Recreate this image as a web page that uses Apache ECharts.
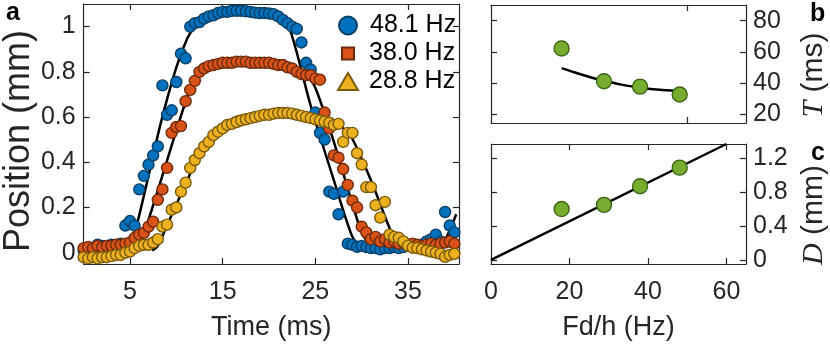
<!DOCTYPE html>
<html>
<head>
<meta charset="utf-8">
<script src="https://cdn.jsdelivr.net/npm/echarts@6/dist/echarts.min.js"></script>
<style>
  html, body { margin: 0; padding: 0; background: #fff; }
  #main { width: 830px; height: 347px; }
</style>
</head>
<body>
<div id="main"></div>
<script>
// frame times (ms)
const time = [0, 0.5, 1, 1.5, 2, 2.5, 3, 3.5, 4, 4.5, 5, 5.5, 6, 6.5, 7, 7.5, 8, 8.5, 9, 9.5,
  10, 10.5, 11, 11.5, 12, 12.5, 13, 13.5, 14, 14.5, 15, 15.5, 16, 16.5, 17, 17.5, 18, 18.5, 19, 19.5,
  20, 20.5, 21, 21.5, 22, 22.5, 23, 23.5, 24, 24.5, 25, 25.5, 26, 26.5, 27, 27.5, 28, 28.5, 29, 29.5,
  30, 30.5, 31, 31.5, 32, 32.5, 33, 33.5, 34, 34.5, 35, 35.5, 36, 36.5, 37, 37.5, 38, 38.5, 39, 39.5, 40];

// position (mm), 48.1 Hz
const pos48 = [0.01, 0.02, 0.02, 0.035, 0.03, 0.03, 0.035, 0.03, 0.04, 0.12, 0.14, 0.12, 0.28, 0.34, 0.39, 0.43, 0.47, 0.74, 0.61, 0.63,
  0.755, 0.88, 0.86, 1.0, 1.015, 1.02, 1.035, 1.045, 1.05, 1.06, 1.065, 1.065, 1.07, 1.07, 1.07, 1.068, 1.065, 1.062, 1.06, 1.06,
  1.058, 1.055, 1.045, 1.03, 1.015, 1.0, 0.99, 0.93, 0.84, 0.81, 0.62, 0.53, 0.5, 0.27, 0.26, 0.17, 0.27, 0.04, 0.035, 0.026,
  0.03, 0.025, 0.02, 0.02, 0.015, 0.02, 0.02, 0.025, 0.02, 0.025, 0.03, 0.025, 0.03, 0.035, 0.05, 0.06, 0.08, 0.05, 0.18, 0.12, 0.09];

// 38.0 Hz
const pos38 = [0.02, 0.025, 0.02, 0.03, 0.025, 0.03, 0.03, 0.035, 0.035, 0.04, 0.045, 0.066, 0.08, 0.088, 0.115, 0.137, 0.234, 0.28, 0.375, 0.53,
  0.556, 0.56, 0.67, 0.72, 0.76, 0.8, 0.815, 0.825, 0.83, 0.835, 0.84, 0.84, 0.84, 0.845, 0.845, 0.845, 0.84, 0.84, 0.84, 0.84,
  0.84, 0.835, 0.83, 0.83, 0.82, 0.815, 0.8, 0.79, 0.785, 0.785, 0.77, 0.765, 0.62, 0.55, 0.43, 0.42, 0.37, 0.3, 0.23, 0.2,
  0.115, 0.09, 0.06, 0.07, 0.05, 0.06, 0.045, 0.05, 0.04, 0.045, 0.035, 0.04, 0.035, 0.03, 0.035, 0.04, 0.035, 0.04, 0.045, 0.05, 0.04];

// 28.8 Hz
const pos29 = [-0.02, -0.025, -0.02, -0.025, -0.02, -0.02, -0.015, -0.01, -0.01, 0, 0.005, 0.02, 0.03, 0.035, 0.035, 0.045, 0.06, 0.115, 0.124, 0.19,
  0.2, 0.27, 0.31, 0.375, 0.41, 0.44, 0.47, 0.49, 0.52, 0.535, 0.55, 0.565, 0.57, 0.578, 0.585, 0.59, 0.595, 0.6, 0.605, 0.61,
  0.61, 0.615, 0.618, 0.618, 0.618, 0.615, 0.61, 0.605, 0.6, 0.595, 0.59, 0.585, 0.58, 0.575, 0.565, 0.57, 0.49, 0.53, 0.53, 0.44,
  0.39, 0.29, 0.29, 0.21, 0.155, 0.225, 0.08, 0.07, 0.066, 0.05, 0.03, 0.022, 0.02, 0.015, 0.01, 0.005, 0, -0.005, -0.018, -0.01, -0.005];

// fitted curves [time, position]
const fit48 = [[4.6, 0.03], [5.4, 0.07], [8.3, 0.57], [10, 0.82], [11.2, 0.95], [12, 1.0], [13, 1.04], [15, 1.065],
  [17.5, 1.07], [20, 1.055], [21.5, 1.025], [22.4, 0.97], [24.5, 0.65], [27, 0.32], [29, 0.07], [30, 0.03], [38.5, 0.03],
  [39.3, 0.08], [40.2, 0.17]];
const fit38 = [[5.6, 0.035], [6.3, 0.06], [10, 0.54], [11.2, 0.69], [12.3, 0.78], [13.5, 0.82], [16, 0.84], [20, 0.84],
  [22.5, 0.82], [24, 0.79], [25, 0.73], [27, 0.49], [29.9, 0.1], [31, 0.04], [37, 0.035]];
const fit29 = [[7.4, 0.01], [8, 0.03], [9.1, 0.13], [11.5, 0.35], [13, 0.48], [14.5, 0.55], [16.5, 0.6], [19, 0.615],
  [21.5, 0.62], [24, 0.605], [26.5, 0.58], [28.6, 0.53], [31, 0.32], [33.1, 0.1], [34, 0.04], [35, 0.015], [38, 0.005]];

// panels b and c
const freq = [18, 28.8, 38.0, 48.1];
const period = [62.2, 41.2, 37.8, 32.7];
const amp = [0.6, 0.65, 0.87, 1.09];
const periodFit = [[18, 49.6], [22, 46.3], [26, 43.3], [28.8, 41.5], [33, 39.2], [38, 37], [43, 35.7], [47.6, 34.9]];
const ampFit = [[0, 0], [60, 1.37]];

const xTicksA = [5, 15, 25, 35];
const yTicksA = [0, 0.2, 0.4, 0.6, 0.8, 1];
const xTicksB = [50];
const yTicksB = [20, 40, 60, 80];
const xTicksC = [20, 40, 60];
const xLabelsC = [0, 20, 40, 60];
const yTicksC = [0, 0.4, 0.8, 1.2];

const seriesNames = ['48.1 Hz', '38.0 Hz', '28.8 Hz'];

const FONT = 'Liberation Sans, Arial, Helvetica, sans-serif';
const SERIF = 'Liberation Serif, serif';
const AX = '#262626';
const fmt = v => String(Math.round(v * 10) / 10);

function mkAxis(o) {
  const labels = o.labels;
  return {
    type: 'value',
    gridIndex: o.grid,
    position: o.position,
    min: o.min, max: o.max,
    name: o.name || '',
    nameLocation: 'middle',
    nameGap: o.nameGap || 0,
    nameRotate: o.nameRotate,
    nameTextStyle: Object.assign({ fontFamily: FONT, fontSize: 27, color: AX }, o.nameStyle || {}),
    axisLine: { show: true, onZero: false, lineStyle: { color: AX, width: 1.2 } },
    axisTick: { show: true, inside: true, length: 6, customValues: o.ticks, lineStyle: { color: AX, width: 1.2 } },
    axisLabel: labels ? {
      show: true, customValues: labels, formatter: fmt, margin: o.margin,
      fontFamily: FONT, fontSize: 25, color: AX
    } : { show: false },
    splitLine: { show: false },
    minorTick: { show: false }
  };
}

const circle = (fill, stroke, size) => ({
  symbol: 'circle', symbolSize: size,
  itemStyle: { color: fill, borderColor: stroke, borderWidth: 1.4, opacity: 1 }
});

const chart = echarts.init(document.getElementById('main'), null, { renderer: 'canvas' });

const colors = [['#0072BD', '#0a3f66'], ['#D95319', '#6e2a0c'], ['#EDB120', '#7a5b0c']];
const posData = [pos48, pos38, pos29];
const fits = [fit48, fit38, fit29];

const scatter = (i) => Object.assign({
  name: seriesNames[i], type: 'scatter', xAxisIndex: 0, yAxisIndex: 0,
  data: time.map((t, k) => [t, posData[i][k]]),
  z: 3 + i
}, circle(colors[i][0], colors[i][1], 11));

const fitLine = (data, xi, yi, z) => ({
  type: 'line', xAxisIndex: xi, yAxisIndex: yi, data: data,
  showSymbol: false, smooth: 0.25, z: z, silent: true,
  lineStyle: { color: '#000', width: 2.5 }
});

const legendItem = (name, icon, top, left, w, h, pad) => ({
  data: [{ name: name, icon: icon }],
  left: left, top: top, itemWidth: w, itemHeight: h, padding: 0,
  orient: 'vertical',
  textStyle: { fontFamily: FONT, fontSize: 25, color: '#000', padding: [0, 0, 0, pad] },
  selectedMode: false
});

const rightName = (size) => ({
  fontSize: size, padding: [0, 22, 0, 0],
  rich: { i: { fontFamily: SERIF, fontStyle: 'italic', fontSize: size, color: AX } }
});

chart.setOption({
  animation: false,
  backgroundColor: '#fff',
  grid: [
    { left: 81, top: 4, width: 378, height: 260 },
    { left: 491, top: 5, width: 255, height: 118 },
    { left: 491, top: 144, width: 255, height: 120 }
  ],
  legend: [
    legendItem(seriesNames[0], 'circle', 13, 338, 18, 18, 8),
    legendItem(seriesNames[1], 'rect', 41, 341, 12, 12, 10),
    legendItem(seriesNames[2], 'triangle', 69, 337, 20, 17, 6)
  ],
  xAxis: [
    mkAxis({ grid: 0, position: 'bottom', min: 0, max: 40.5, ticks: xTicksA, labels: xTicksA, margin: 16, name: 'Time (ms)', nameGap: 50 }),
    mkAxis({ grid: 0, position: 'top', min: 0, max: 40.5, ticks: xTicksA }),
    mkAxis({ grid: 1, position: 'bottom', min: 0, max: 65, ticks: xTicksB }),
    mkAxis({ grid: 1, position: 'top', min: 0, max: 65, ticks: xTicksB }),
    mkAxis({ grid: 2, position: 'bottom', min: 0, max: 65, ticks: xTicksC, labels: xLabelsC, margin: 16, name: 'Fd/h (Hz)', nameGap: 50 }),
    mkAxis({ grid: 2, position: 'top', min: 0, max: 65, ticks: xTicksC })
  ],
  yAxis: [
    mkAxis({ grid: 0, position: 'left', min: -0.05, max: 1.1, ticks: yTicksA, labels: yTicksA, margin: 8,
      name: 'Position (mm)', nameGap: 45, nameStyle: { fontSize: 36, padding: [0, 14, 0, 0] } }),
    mkAxis({ grid: 0, position: 'right', min: -0.05, max: 1.1, ticks: yTicksA }),
    mkAxis({ grid: 1, position: 'right', min: 14.5, max: 90, ticks: yTicksB, labels: yTicksB, margin: 7,
      name: '{i|T} (ms)', nameGap: 53, nameRotate: 90, nameStyle: rightName(30) }),
    mkAxis({ grid: 1, position: 'left', min: 14.5, max: 90, ticks: yTicksB }),
    mkAxis({ grid: 2, position: 'right', min: -0.05, max: 1.37, ticks: yTicksC, labels: yTicksC, margin: 7,
      name: '{i|D} (mm)', nameGap: 53, nameRotate: 90, nameStyle: rightName(30) }),
    mkAxis({ grid: 2, position: 'left', min: -0.05, max: 1.37, ticks: yTicksC })
  ],
  graphic: [
    { type: 'text', left: 6, top: 1, style: { text: 'a', font: 'bold 25px ' + FONT, fill: '#000' } },
    { type: 'text', left: 810, top: 2, style: { text: 'b', font: 'bold 25px ' + FONT, fill: '#000' } },
    { type: 'text', left: 811, top: 141, style: { text: 'c', font: 'bold 25px ' + FONT, fill: '#000' } }
  ],
  series: [
    fitLine(fits[0], 0, 0, 1),
    fitLine(fits[1], 0, 0, 1),
    fitLine(fits[2], 0, 0, 1),
    scatter(0),
    scatter(1),
    scatter(2),
    fitLine(periodFit, 2, 2, 2),
    Object.assign({ type: 'scatter', xAxisIndex: 2, yAxisIndex: 2, data: freq.map((f, k) => [f, period[k]]), z: 5 },
      circle('#77AC30', '#3b6614', 15)),
    fitLine(ampFit, 4, 4, 2),
    Object.assign({ type: 'scatter', xAxisIndex: 4, yAxisIndex: 4, data: freq.map((f, k) => [f, amp[k]]), z: 5 },
      circle('#77AC30', '#3b6614', 15))
  ]
});
</script>
</body>
</html>
